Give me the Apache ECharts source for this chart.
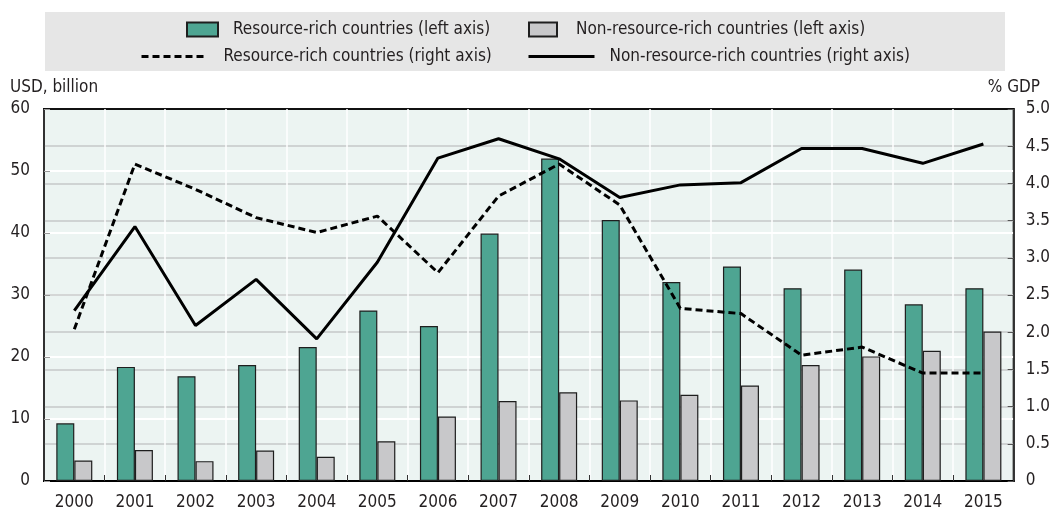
<!DOCTYPE html>
<html lang="en">
<head>
    <meta charset="UTF-8">
    <title>Resource-rich vs non-resource-rich countries</title>
    <script src="https://cdn.jsdelivr.net/npm/echarts@6/dist/echarts.min.js"></script>
    <style>
        html, body { margin: 0; padding: 0; background: #fff; }
        #main { width: 1053px; height: 511px; }
    </style>
</head>
<body>
    <div id="main"></div>
    <script type="text/javascript">
        var years = ['2000', '2001', '2002', '2003', '2004', '2005', '2006', '2007',
                     '2008', '2009', '2010', '2011', '2012', '2013', '2014', '2015'];
        // USD billion, left axis
        var richUsd = [9.3, 18.4, 16.9, 18.7, 21.6, 27.5, 25.0, 39.9,
                       52.0, 42.1, 32.1, 34.6, 31.1, 34.1, 28.5, 31.1];
        var nonRichUsd = [3.3, 5.0, 3.2, 4.9, 3.9, 6.4, 10.4, 12.9,
                          14.3, 13.0, 13.9, 15.4, 18.7, 20.1, 21.0, 24.1];
        // % GDP, right axis
        var richGdp = [2.04, 4.26, 3.92, 3.54, 3.34, 3.56, 2.80, 3.83,
                       4.26, 3.71, 2.32, 2.25, 1.69, 1.80, 1.45, 1.45];
        var nonRichGdp = [2.29, 3.42, 2.09, 2.71, 1.91, 2.94, 4.34, 4.60,
                          4.33, 3.81, 3.98, 4.01, 4.47, 4.47, 4.27, 4.53];

        var font = "'DejaVu Sans Condensed', 'Liberation Sans Narrow', sans-serif";
        var txt = '#231f20';

        var myChart = echarts.init(document.getElementById('main'));

        function legendItem(name, left, top, w, gap, isLine) {
            var l = {
                data: [name],
                left: left,
                top: top,
                itemWidth: w,
                itemHeight: 14,
                padding: 0,
                selectedMode: false,
                textStyle: { fontFamily: font, fontSize: 17, color: txt, padding: [0, 0, 0, gap] }
            };
            if (isLine) {
                // only the line, no marker in the middle
                l.itemStyle = { opacity: 0 };
                l.lineStyle = { width: 3 };
            } else {
                l.icon = 'rect';
            }
            return l;
        }

        var option = {
            animation: false,
            textStyle: { fontFamily: font },
            graphic: [
                { type: 'rect', z: -10, shape: { x: 45, y: 12, width: 960, height: 59 }, style: { fill: '#e6e6e6' } },
                { type: 'text', left: 10, top: 79, style: { text: 'USD, billion', font: '17px ' + font, fill: txt } },
                { type: 'text', right: 13, top: 79, style: { text: '% GDP', font: '17px ' + font, fill: txt } }
            ],
            legend: [
                legendItem('Resource-rich countries (left axis)', 186, 21, 31, 10, false),
                legendItem('Non-resource-rich countries (left axis)', 528, 21, 28, 14, false),
                legendItem('Resource-rich countries (right axis)', 140, 48, 65, 12, true),
                legendItem('Non-resource-rich countries (right axis)', 527, 48, 66, 10, true)
            ],
            grid: {
                left: 44, right: 39, top: 109, bottom: 29,
                show: true,
                backgroundColor: '#ecf4f2',
                borderColor: '#111',
                borderWidth: 2
            },
            xAxis: {
                type: 'category',
                data: years,
                axisLine: { lineStyle: { color: '#000', width: 2 } },
                axisTick: { show: true, inside: true, length: 6, lineStyle: { color: '#333' } },
                splitLine: { show: true, lineStyle: { color: '#ffffff', width: 1.5 } },
                axisLabel: { fontFamily: font, fontSize: 17, color: txt, margin: 13 }
            },
            yAxis: [{
                type: 'value',
                min: 0, max: 60, interval: 10,
                axisLine: { show: true, lineStyle: { color: '#000', width: 1.5 } },
                axisTick: { show: true, inside: true, length: 6, lineStyle: { color: '#9a9a9a' } },
                splitLine: { show: true, showMinLine: false, showMaxLine: false, lineStyle: { color: '#ffffff', width: 2 } },
                axisLabel: { fontFamily: font, fontSize: 17, color: txt, margin: 14 }
            }, {
                type: 'value',
                min: 0, max: 5, interval: 0.5,
                axisLine: { show: true, lineStyle: { color: '#000', width: 1.5 } },
                axisTick: { show: true, inside: true, length: 6, lineStyle: { color: '#555' } },
                splitLine: { show: true, showMinLine: false, showMaxLine: false, lineStyle: { color: '#c6c9c9', width: 1.5 } },
                axisLabel: {
                    fontFamily: font, fontSize: 17, color: txt, margin: 12,
                    formatter: function (v) { return v === 0 ? '0' : v.toFixed(1); }
                }
            }],
            series: [{
                name: 'Resource-rich countries (left axis)',
                type: 'bar',
                data: richUsd,
                barWidth: 18,
                barGap: '0%',
                itemStyle: { color: '#4ea592', borderColor: '#1e1e1e', borderWidth: 1.2 }
            }, {
                name: 'Non-resource-rich countries (left axis)',
                type: 'bar',
                data: nonRichUsd,
                barWidth: 18,
                barGap: '0%',
                itemStyle: { color: '#c8c8ca', borderColor: '#1e1e1e', borderWidth: 1.2 }
            }, {
                name: 'Resource-rich countries (right axis)',
                type: 'line',
                yAxisIndex: 1,
                data: richGdp,
                symbol: 'none',
                itemStyle: { color: '#000' },
                lineStyle: { color: '#000', width: 3, type: [7, 4] }
            }, {
                name: 'Non-resource-rich countries (right axis)',
                type: 'line',
                yAxisIndex: 1,
                data: nonRichGdp,
                symbol: 'none',
                itemStyle: { color: '#000' },
                lineStyle: { color: '#000', width: 3 }
            }]
        };

        myChart.setOption(option);
    </script>
</body>
</html>
